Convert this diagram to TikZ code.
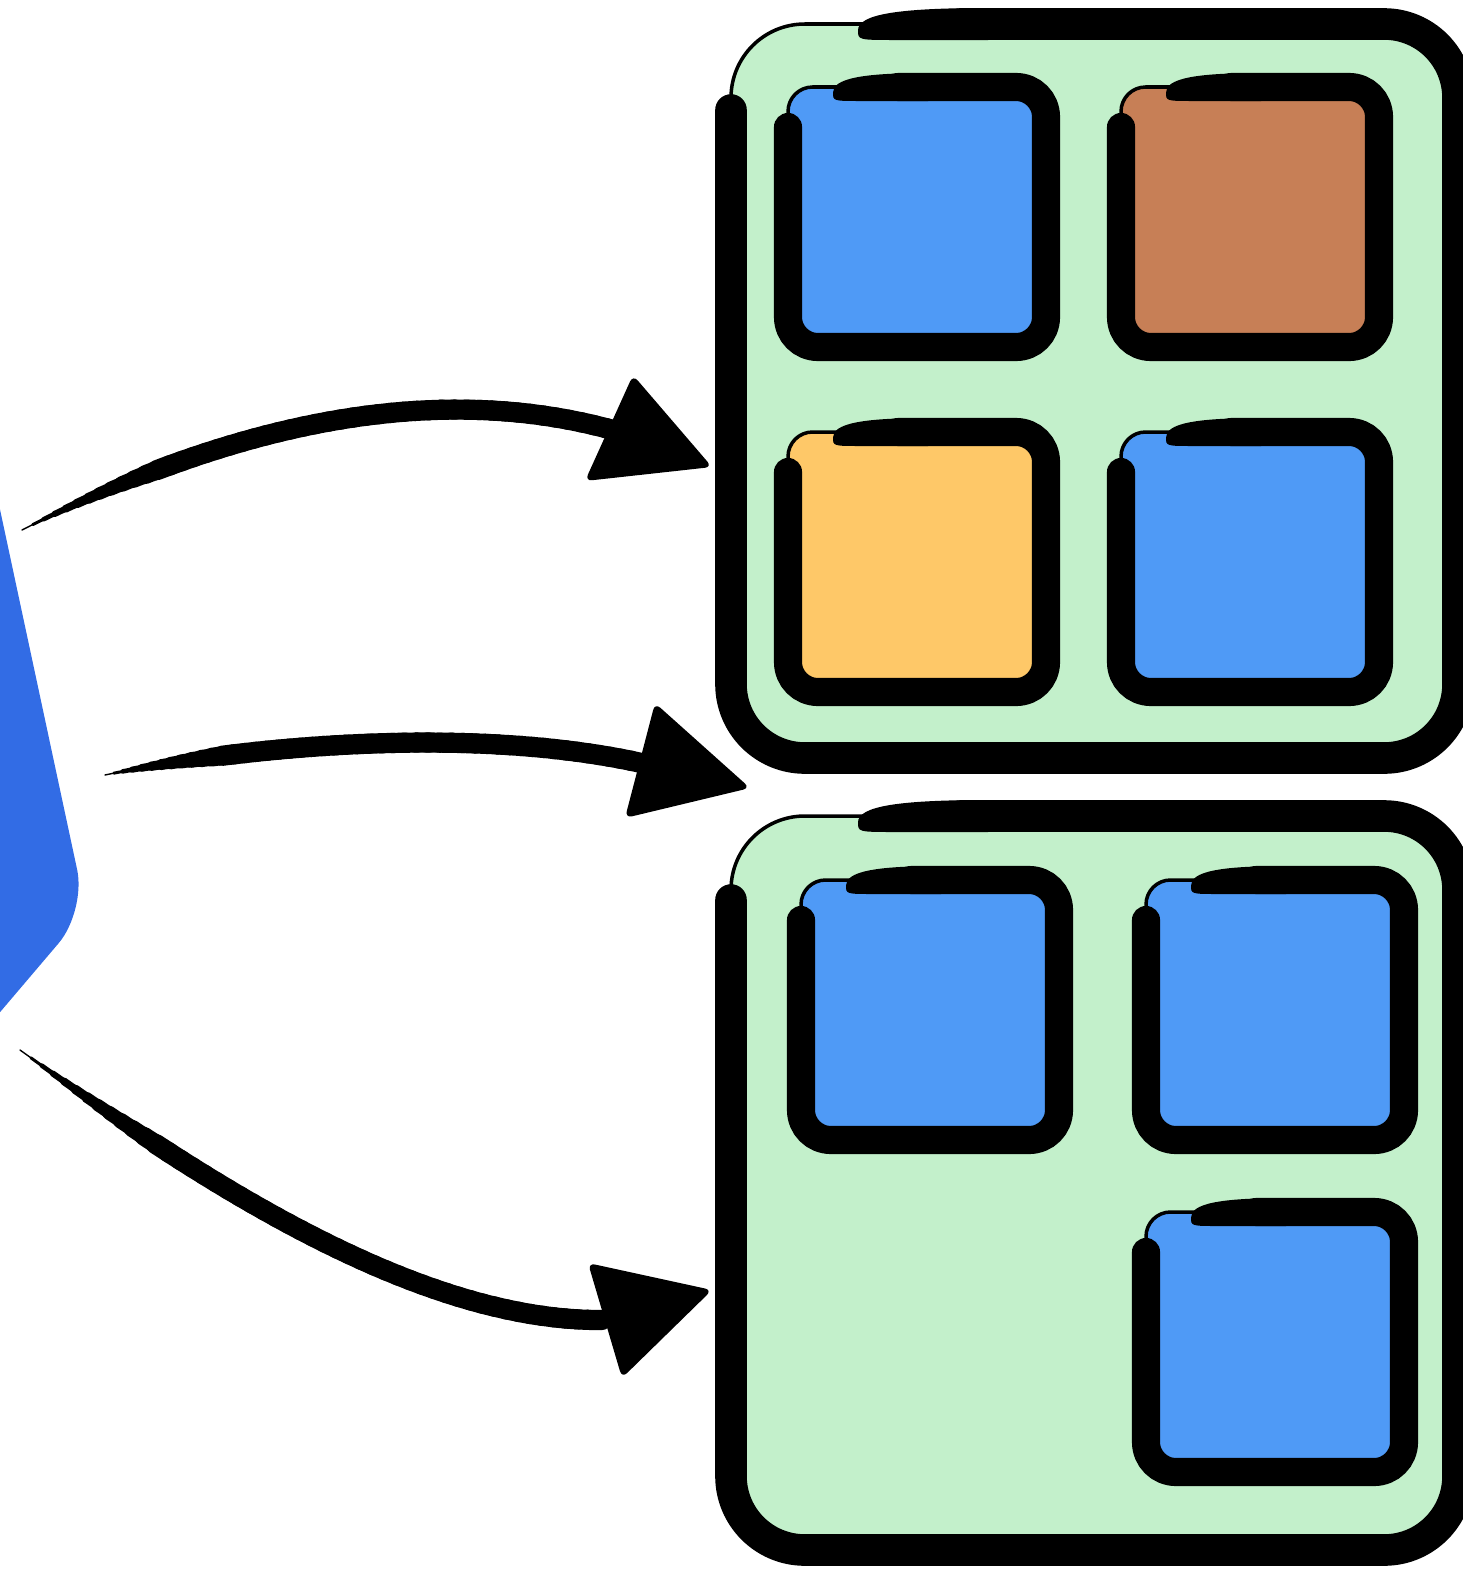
\documentclass[tikz,border=0pt]{standalone}
\usetikzlibrary{arrows.meta}
\definecolor{podgreen}{HTML}{C3F0CB}
\definecolor{ctblue}{HTML}{4F9AF6}
\definecolor{ctbrown}{HTML}{C77F56}
\definecolor{ctyellow}{HTML}{FEC868}
\definecolor{kblue}{HTML}{326CE5}
\tikzset{
  boxbrush/.style={line width=18pt, line cap=round, rounded corners=42pt},
  boxline/.style={line width=2pt, rounded corners=42pt},
  sqbrush/.style={line width=16pt, line cap=round, rounded corners=17pt},
  sqline/.style={line width=2pt, rounded corners=14pt},
  head/.style={fill=black, rounded corners=4pt}
}
% tapered brush shaft, cubic curve given by 4 points (x y each)
\newcommand\shaft[8]{%
  \foreach \a in {0,0.02,...,0.97}{
    \pgfmathsetmacro\w{min(0.8+45*\a,11.5)}
    \draw[line width=\w pt, line cap=round] plot[domain=\a:\a+0.025, samples=3, variable=\t]
      ({(1-\t)^3*#1+3*(1-\t)^2*\t*#3+3*(1-\t)*\t^2*#5+\t^3*#7},
       {(1-\t)^3*#2+3*(1-\t)^2*\t*#4+3*(1-\t)*\t^2*#6+\t^3*#8});
  }}
% pointed start of a brush stroke: x, y, half width, length
\newcommand\blob[4]{%
  \fill (#1,#2+0.4*#3) .. controls (#1,#2-0.6*#3) and (#1+0.3*#4,#2-#3) .. (#1+#4,#2-#3)
    -- (#1+#4,#2+#3) -- (#1+0.3*#4,#2+#3) .. controls (#1,#2+#3) .. cycle;}
\begin{document}
\begin{tikzpicture}[x=0.02cm, y=-0.02cm]
  \useasboundingbox (0,0) rectangle (1463,1569);
  \clip (0,0) rectangle (1463,1569);

  % logo on the left
  \fill[kblue, rounded corners=24pt] (-50,276) -- (86,911) -- (-50,1071) -- cycle;

  % upper pod
  \draw[boxline, fill=podgreen] (731,24) rectangle (1458,758);
  \draw[boxbrush] (960,24) -- (1458,24) -- (1458,758) -- (731,758) -- (731,110);
  \blob{858}{24}{16}{130}
  % lower pod
  \draw[boxline, fill=podgreen] (731,816) rectangle (1458,1550);
  \draw[boxbrush] (960,816) -- (1458,816) -- (1458,1550) -- (731,1550) -- (731,900);
  \blob{858}{816}{16}{130}

  % containers
  \foreach \x/\y/\c in {788/87/ctblue, 1121/87/ctbrown, 788/432/ctyellow, 1121/432/ctblue,
                        801/880/ctblue, 1146/880/ctblue, 1146/1212/ctblue}{
    \draw[sqline, fill=\c] (\x,\y) rectangle (\x+258,\y+260);
    \draw[sqbrush] (\x+110,\y) -- (\x+258,\y) -- (\x+258,\y+260) -- (\x,\y+260) -- (\x,\y+40);
    \blob{\x+45}{\y}{14}{95}
  }

  % arrows
  \shaft{22}{530}{200}{440}{420}{370}{630}{435}
  \coordinate (a1) at (633,375);
  \coordinate (t1) at (712,467);
  \coordinate (b1) at (585,481);
  \fill[head] (a1) -- (t1) -- (b1) -- cycle;

  \shaft{105}{775}{250}{745}{480}{725}{650}{765}
  \coordinate (a2) at (655,703);
  \coordinate (t2) at (750,788);
  \coordinate (b2) at (625,818);
  \fill[head] (a2) -- (t2) -- (b2) -- cycle;

  \shaft{20}{1050}{200}{1180}{420}{1325}{610}{1320}
  \coordinate (a3) at (588,1263);
  \coordinate (t3) at (712,1290);
  \coordinate (b3) at (622,1378);
  \fill[head] (a3) -- (t3) -- (b3) -- cycle;
\end{tikzpicture}
\end{document}
